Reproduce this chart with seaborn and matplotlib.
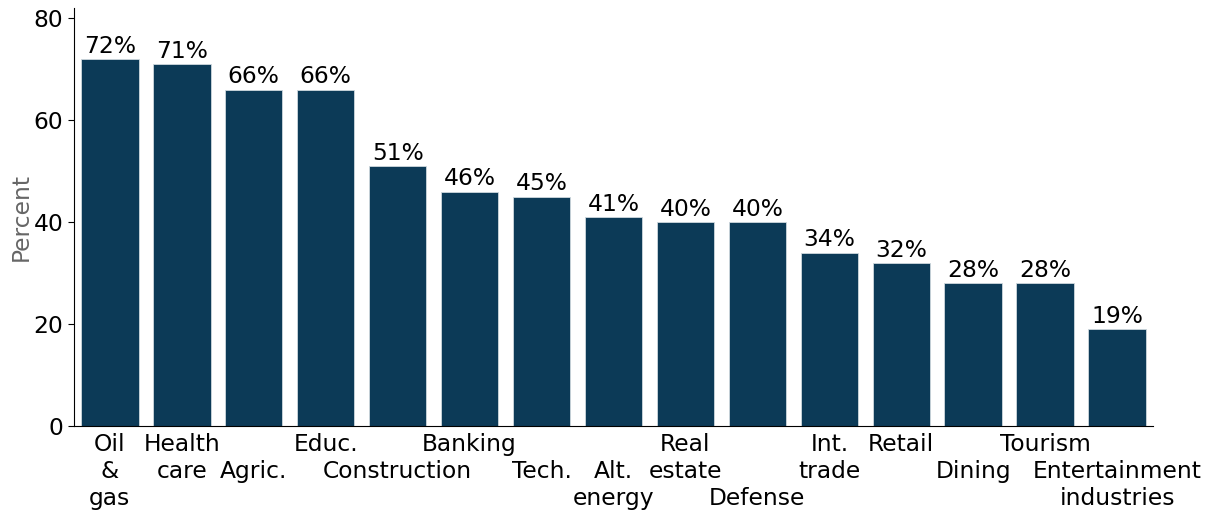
import matplotlib
matplotlib.use("Agg")
import matplotlib.pyplot as plt
import pandas as pd
import seaborn as sns

# industries, in the order shown (leading newlines stagger the tick labels)
industries = ["Oil\n&\ngas", "Health\ncare", "\nAgric.", "Educ.", "\nConstruction",
              "Banking", "\nTech.", "\nAlt.\nenergy", "Real\nestate", "\n\nDefense",
              "Int.\ntrade", "Retail", "\nDining", "Tourism", "\nEntertainment\nindustries"]
percent = [72, 71, 66, 66, 51, 46, 45, 41, 40, 40, 34, 32, 28, 28, 19]

data = pd.DataFrame({"industry": industries, "percent": percent})

sns.set_style("ticks", {"axes.edgecolor": "black", "text.color": "black",
                        "xtick.color": "black", "ytick.color": "black"})
plt.rcParams["font.family"] = ["DejaVu Sans"]

fig, ax = plt.subplots(figsize=(12.1, 5.12), dpi=100)
sns.barplot(data=data, x="industry", y="percent", color="#0c3a57", saturation=1,
            width=0.8, edgecolor="#cfd8de", linewidth=0.6, ax=ax)

ax.bar_label(ax.containers[0], fmt="{:.0f}%", fontsize=16.8, padding=1, color="black")

ax.set_ylim(0, 82)
ax.set_yticks([0, 20, 40, 60, 80])
ax.set_xlabel("")
ax.set_ylabel("Percent", fontsize=16.8, color="#666666", labelpad=1)
ax.tick_params(axis="y", labelsize=16.8, length=4)
ax.tick_params(axis="x", labelsize=16.8, length=0, pad=5)
plt.setp(ax.get_xticklabels(), linespacing=1.22)
sns.despine(ax=ax)

plt.subplots_adjust(left=0.061, right=0.953, top=0.984, bottom=0.168)
plt.savefig("out.png")
